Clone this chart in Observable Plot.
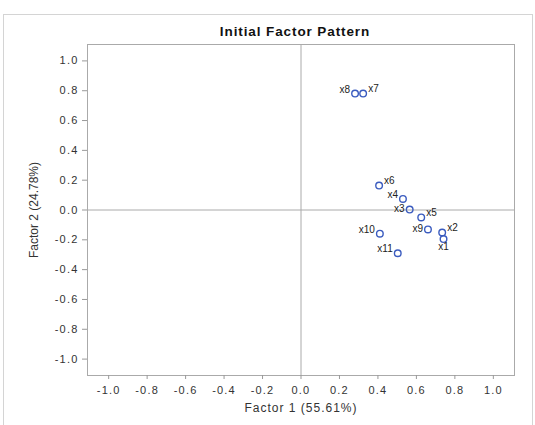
<!DOCTYPE html>
<html><head><meta charset="utf-8">
<script src="https://cdn.jsdelivr.net/npm/d3@7"></script>
<script src="https://cdn.jsdelivr.net/npm/@observablehq/plot@0.6"></script>
<style>
body{margin:0;background:#fff;font-family:"Liberation Sans",Arial,sans-serif;}
#wrap{position:relative;width:535px;height:425px;overflow:hidden;}
#box{position:absolute;left:3px;top:14px;width:530px;height:430px;border:1px solid #d4d4d4;box-sizing:border-box;}
#title{position:absolute;left:0;width:590px;top:24px;text-align:center;font-weight:bold;font-size:13.5px;letter-spacing:0.9px;color:#111;}
#chart{position:absolute;left:0;top:0;}
#chart g[aria-label="x-axis tick label"] text,
#chart g[aria-label="y-axis tick label"] text{letter-spacing:1.2px;}
#chart g[aria-label="x-axis label"] text{letter-spacing:1px;font-size:12px;}
#chart g[aria-label="y-axis label"] text{font-size:12px;}
</style></head>
<body>
<div id="wrap"><div id="box"></div><div id="title">Initial Factor Pattern</div><div id="chart"></div></div>
<script>
const names = ["x1","x2","x3","x4","x5","x6","x7","x8","x9","x10","x11"];
const factor1 = [0.741,0.734,0.565,0.530,0.625,0.406,0.323,0.281,0.660,0.410,0.503];
const factor2 = [-0.195,-0.151,0.003,0.074,-0.050,0.164,0.781,0.781,-0.130,-0.159,-0.290];
const labelPos = ["s","ne","w","nw","ne","ne","ne","nw","w","nw","nw"];
const ticks = [-1.0,-0.8,-0.6,-0.4,-0.2,0.0,0.2,0.4,0.6,0.8,1.0];
const xLabel = "Factor 1 (55.61%)";
const yLabel = "Factor 2 (24.78%)";

const data = names.map((n,i)=>({name:n,f1:factor1[i],f2:factor2[i],pos:labelPos[i]}));
const fmt = d => d.toFixed(1);
const offs = {
  s:{dx:0,dy:8,anchor:"middle"},
  ne:{dx:5,dy:-5,anchor:"start"},
  w:{dx:-5,dy:-1,anchor:"end"},
  nw:{dx:-5,dy:-4,anchor:"end"}
};
const labelMarks = Object.entries(offs).map(([k,o]) =>
  Plot.text(data.filter(d=>d.pos===k),{x:"f1",y:"f2",text:"name",dx:o.dx,dy:o.dy,textAnchor:o.anchor,fontSize:10,fill:"#222"}));

const chart = Plot.plot({
  width:535,height:425,
  marginLeft:87,marginRight:21,marginTop:44,marginBottom:50,
  style:{fontFamily:"Liberation Sans, Arial, sans-serif",fontSize:"11px",color:"#333",background:"transparent"},
  x:{domain:[-1.11,1.11]},
  y:{domain:[-1.11,1.11]},
  marks:[
    Plot.ruleX([0],{stroke:"#aaa",strokeWidth:1}),
    Plot.ruleY([0],{stroke:"#aaa",strokeWidth:1}),
    Plot.frame({stroke:"#aaa"}),
    Plot.axisX({ticks:ticks,tickFormat:fmt,tickSize:4,tickPadding:7,stroke:"#999",label:xLabel,labelAnchor:"center",labelArrow:"none",labelOffset:36,fontSize:11}),
    Plot.axisY({ticks:ticks,tickFormat:fmt,tickSize:5,tickPadding:4,stroke:"#999",label:yLabel,labelAnchor:"center",labelArrow:"none",labelOffset:58,fontSize:11}),
    Plot.dot(data,{x:"f1",y:"f2",r:3.3,stroke:"#3a5bbf",strokeWidth:1.4,fill:"none"}),
    ...labelMarks
  ]
});
document.getElementById("chart").appendChild(chart);
</script>
</body></html>
